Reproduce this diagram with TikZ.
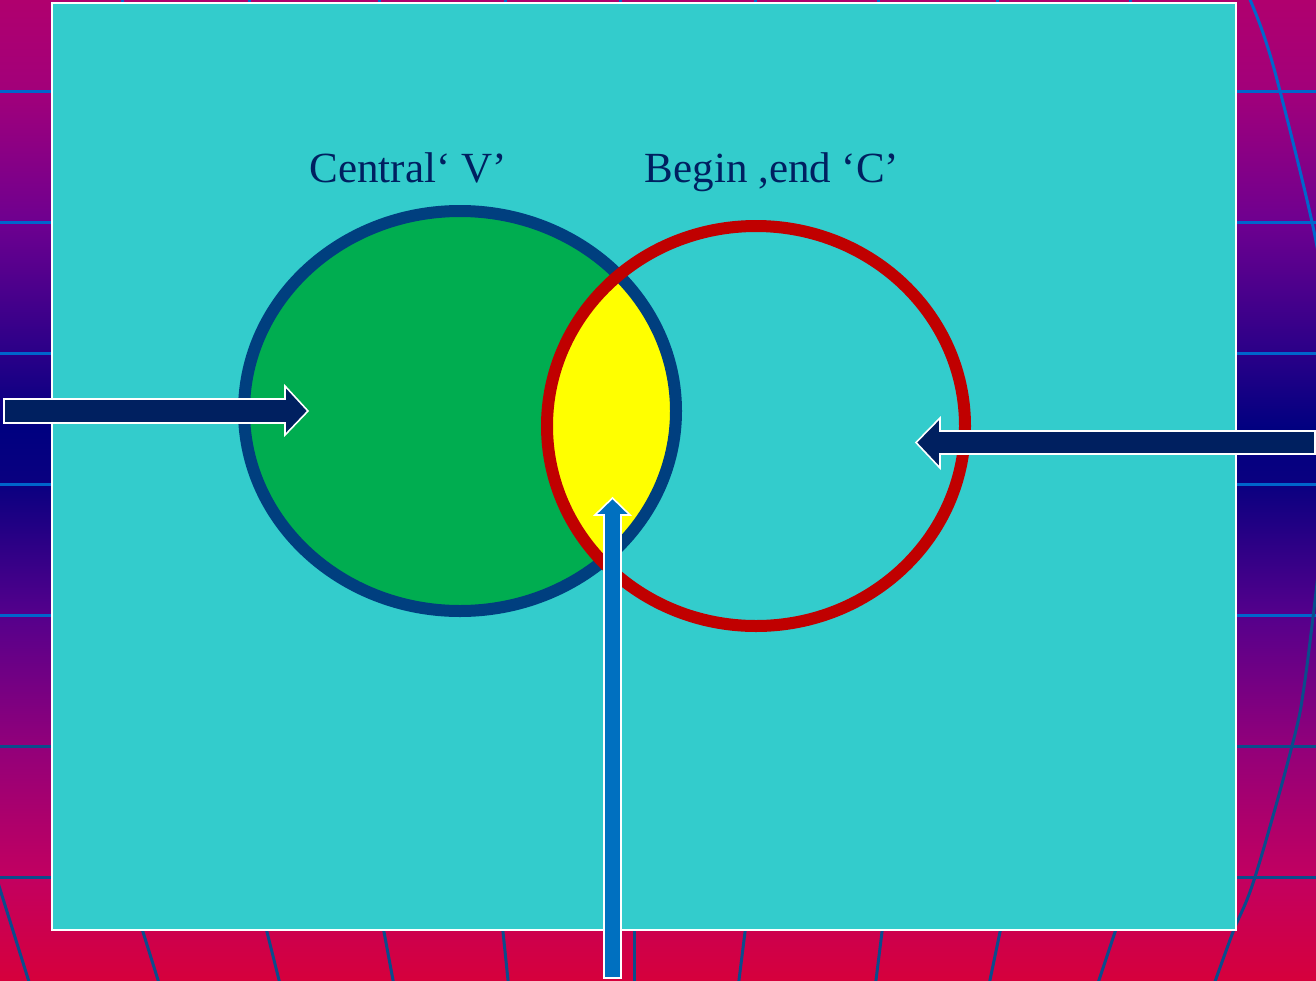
\documentclass[tikz,border=0pt]{standalone}
\usepackage{fontspec}
\setmainfont{Liberation Serif}
\usetikzlibrary{calc}

% background colours, top to bottom
\definecolor{bgC0}{HTML}{B0006E}
\definecolor{bgC1}{HTML}{A2007A}
\definecolor{bgC2}{HTML}{6E0090}
\definecolor{bgC3}{HTML}{2A0088}
\definecolor{bgC4}{HTML}{000080}
\definecolor{bgC5}{HTML}{0A0080}
\definecolor{bgC6}{HTML}{55008C}
\definecolor{bgC7}{HTML}{92007A}
\definecolor{bgC8}{HTML}{C20060}
\definecolor{bgC9}{HTML}{D6003C}
\definecolor{gridA}{HTML}{0066CC}
\definecolor{gridB}{HTML}{0A4C8C}
\definecolor{panel}{HTML}{33CCCC}
\definecolor{ringV}{HTML}{003F7F}
\definecolor{ringC}{HTML}{C00000}
\definecolor{fillV}{HTML}{00AD50}
\definecolor{fillVC}{HTML}{FFFF00}
\definecolor{navytxt}{HTML}{002060}
\definecolor{upblue}{HTML}{0070C0}

\pgfdeclareverticalshading{bgshade}{100bp}{%
  color(0bp)=(bgC9); color(25bp)=(bgC9); color(30.26bp)=(bgC8);
  color(36.94bp)=(bgC7); color(43.62bp)=(bgC6); color(50.31bp)=(bgC5);
  color(53.06bp)=(bgC4); color(56.99bp)=(bgC3); color(63.67bp)=(bgC2);
  color(70.36bp)=(bgC1); color(75bp)=(bgC0); color(100bp)=(bgC0)}

\tikzset{
  gridup/.style={draw=gridA, line width=3pt},
  griddown/.style={draw=gridB, line width=3pt},
  ring/.style={line width=12pt},
  blockarrow/.style={draw=white, line width=1.6pt, line join=miter},
  label/.style={text=navytxt, font=\fontsize{43}{50}\selectfont, anchor=base, inner sep=0pt}
}

\begin{document}
\begin{tikzpicture}[x=1pt, y=-1pt]
\useasboundingbox (0,0) rectangle (1316,980);
\clip (0,0) rectangle (1316,980);

% gradient backdrop
\shade[shading=bgshade] (0,0) rectangle (1316,980);

% latitude lines
\foreach \yy in {91,222,353,484,615} \draw[gridup] (-5,\yy) -- (1321,\yy);
\foreach \yy in {746,877} \draw[griddown] (-5,\yy) -- (1321,\yy);

% meridian stubs above the panel
\foreach \xx in {122,249,379,505,620,755,878,997,1130}
  \draw[gridup] (\xx,-3) -- (\xx,10);

% meridians below the panel
\foreach \xa/\xb in {143/158,267/279,384/393,503/508,634/634,745/739,882/876,1000/990,1115/1099}
  \draw[griddown] ($(\xa,932)!-0.6!(\xb,980)$) -- ($(\xa,932)!1.1!(\xb,980)$);
\draw[griddown] (-6,870) -- (30,985);

% outer meridian on the right
\draw[gridup] plot[smooth, tension=0.6] coordinates
  {(1246,-10) (1263,33) (1280,91) (1312,222) (1326,300)};
\draw[griddown] plot[smooth, tension=0.6] coordinates
  {(1322,540) (1305,680) (1292,746) (1255,877) (1233,932) (1212,990)};

% panel
\fill[panel, draw=white, line width=2pt] (52,3) rectangle (1236,930);

% set regions
\fill[fillV] (460,411) ellipse [x radius=216pt, y radius=200pt];
\begin{scope}
  \clip (756,426) ellipse [x radius=209pt, y radius=200pt];
  \fill[fillVC] (460,411) ellipse [x radius=216pt, y radius=200pt];
\end{scope}
\draw[ring, ringV] (460,411) ellipse [x radius=216pt, y radius=200pt];
\draw[ring, ringC] (756,426) ellipse [x radius=209pt, y radius=200pt];

% captions
\node[label] (capV) at (408,182) {Central‘ V’};
\node[label] (capC) at (772,182) {Begin ,end ‘C’};

% block arrows
\filldraw[blockarrow, fill=navytxt]
  (4,399) -- (285,399) -- (285,386) -- (308,411) -- (285,435) -- (285,423) -- (4,423) -- cycle;
\filldraw[blockarrow, fill=navytxt]
  (1315,431) -- (940,431) -- (940,418) -- (916,442.5) -- (940,468) -- (940,454) -- (1315,454) -- cycle;
\filldraw[blockarrow, fill=upblue]
  (604,978) -- (604,515) -- (595,515) -- (612.5,498) -- (630,515) -- (621,515) -- (621,978) -- cycle;
\end{tikzpicture}
\end{document}
